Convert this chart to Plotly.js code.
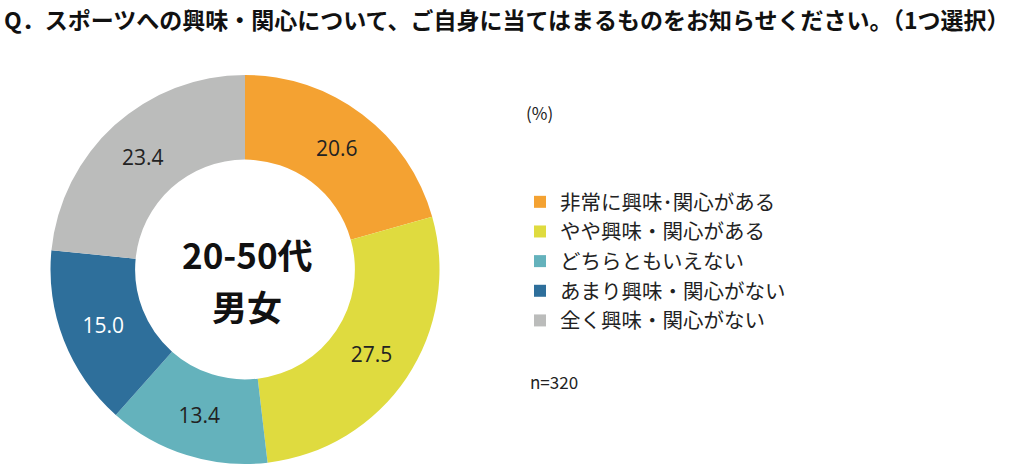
<!DOCTYPE html>
<html><head><meta charset="utf-8">
<script src="https://cdn.plot.ly/plotly-3.0.1.min.js"></script>
<style>html,body{margin:0;padding:0;background:#fff}#chart{width:1024px;height:465px}</style>
</head><body><div id="chart"></div>
<script>
const categories = ["非常に興味･関心がある","やや興味・関心がある","どちらともいえない","あまり興味・関心がない","全く興味・関心がない"];
const values = [20.6, 27.5, 13.4, 15.0, 23.4];
const colors = ["#f4a232","#dfdb3f","#64b2bc","#2e6f9b","#bbbcbb"];
const textColors = ["#222","#222","#222","#fff","#222"];
const titleText = "Q．スポーツへの興味・関心について、ご自身に当てはまるものをお知らせください。（1つ選択）";
const centerLine1 = "20-50代";
const centerLine2 = "男女";
const unitText = "(%)";
const nText = "n=320";
const FONT = "'Noto Sans CJK JP', 'Noto Sans', sans-serif";

const trace = {
  type: "pie",
  labels: categories,
  values: values,
  sort: false,
  direction: "clockwise",
  rotation: 0,
  hole: 0.565,
  marker: {colors: colors, line: {width: 0}},
  texttemplate: values.map(v => v.toFixed(1)),
  textinfo: "text",
  textposition: "inside",
  insidetextorientation: "horizontal",
  insidetextfont: {family: "'Open Sans', 'Noto Sans', sans-serif", size: 21, color: textColors},
  domain: {x: [50/1024, 440/1024], y: [1 - 464/465, 1 - 75/465]},
  hoverinfo: "none"
};

const layout = {
  width: 1024, height: 465,
  margin: {l: 0, r: 0, t: 0, b: 0},
  paper_bgcolor: "#fff",
  font: {family: FONT, color: "#222"},
  showlegend: true,
  legend: {
    x: 520/1024, y: 1 - 182/465, xanchor: "left", yanchor: "top",
    font: {family: FONT, size: 20.5, color: "#222"},
    tracegroupgap: 0, itemwidth: 30
  },
  annotations: [
    {text: "<b>" + titleText + "</b>", x: 2/1024, y: 1 - 19/465, xref: "paper", yref: "paper",
     xanchor: "left", yanchor: "middle", showarrow: false, font: {family: FONT, size: 23, color: "#111"}},
    {text: "<b>" + centerLine1 + "</b>", x: 247/1024, y: 1 - 253/465, xref: "paper", yref: "paper",
     xanchor: "center", yanchor: "middle", showarrow: false, borderpad: 0,
     font: {family: FONT, size: 35, color: "#111"}},
    {text: "<b>" + centerLine2 + "</b>", x: 247/1024, y: 1 - 305/465, xref: "paper", yref: "paper",
     xanchor: "center", yanchor: "middle", showarrow: false, borderpad: 0,
     font: {family: FONT, size: 35, color: "#111"}},
    {text: unitText, x: 524/1024, y: 1 - 112/465, xref: "paper", yref: "paper",
     xanchor: "left", yanchor: "middle", showarrow: false, font: {family: FONT, size: 17, color: "#222"}},
    {text: nText, x: 528/1024, y: 1 - 381/465, xref: "paper", yref: "paper",
     xanchor: "left", yanchor: "middle", showarrow: false, font: {family: FONT, size: 17, color: "#222"}}
  ]
};
Plotly.newPlot("chart", [trace], layout, {displayModeBar: false, staticPlot: true});
</script></body></html>
